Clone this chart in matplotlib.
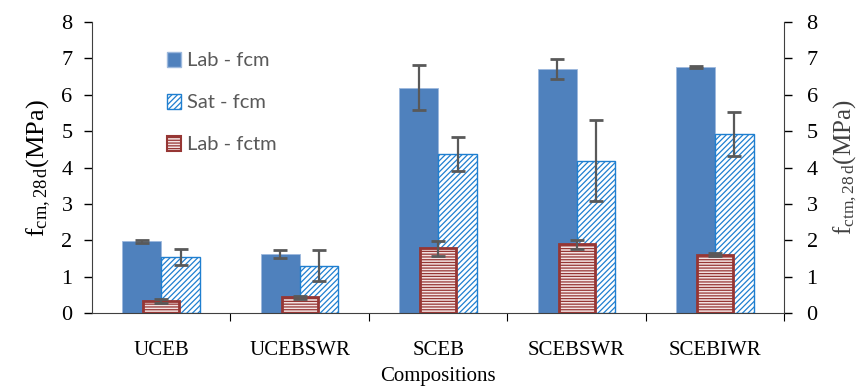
import matplotlib.pyplot as plt
from matplotlib.patches import Patch
import numpy as np

plt.rcParams["font.family"] = ["Liberation Serif", "DejaVu Serif"]
plt.rcParams["mathtext.fontset"] = "custom"
plt.rcParams["mathtext.rm"] = "Liberation Serif"
plt.rcParams["mathtext.it"] = "Liberation Serif"
plt.rcParams["hatch.linewidth"] = 0.9

compositions = ["UCEB", "UCEBSWR", "SCEB", "SCEBSWR", "SCEBIWR"]
lab_fcm = [1.97, 1.62, 6.20, 6.71, 6.77]
lab_fcm_err = [0.05, 0.11, 0.61, 0.27, 0.02]
sat_fcm = [1.55, 1.30, 4.37, 4.19, 4.93]
sat_fcm_err = [0.22, 0.43, 0.46, 1.12, 0.60]
lab_fctm = [0.33, 0.43, 1.78, 1.89, 1.61]
lab_fctm_err = [0.05, 0.05, 0.20, 0.12, 0.04]

x = np.arange(len(compositions))
w = 0.28
err_kw = dict(ecolor="#595959", elinewidth=1.6, capsize=5, capthick=2)

fig = plt.figure(figsize=(8.6, 3.87), dpi=100)
ax = fig.add_axes([0.107, 0.191, 0.805, 0.752])

b1 = ax.bar(x - w / 2, lab_fcm, w, color="#4F81BD", edgecolor="#9DB9DD",
            linewidth=0.6, yerr=lab_fcm_err, error_kw=err_kw, label="Lab - fcm")
b2 = ax.bar(x + w / 2, sat_fcm, w, facecolor="white", edgecolor="#1F7FD0",
            hatch="//////", linewidth=1.0, yerr=sat_fcm_err, error_kw=err_kw,
            label="Sat - fcm")

ax2 = ax.twinx()
b3 = ax2.bar(x, lab_fctm, 0.26, facecolor="#F4E4E4", edgecolor="#963634",
             hatch="------", linewidth=2.0, yerr=lab_fctm_err, error_kw=err_kw,
             label="Lab - fctm")

for a in (ax, ax2):
    a.set_ylim(0, 8)
    a.set_xlim(-0.5, 4.5)
    a.set_yticks(range(0, 9))
    a.spines["top"].set_visible(False)
    a.tick_params(axis="y", labelsize=16, direction="out", length=6, width=1)

ax.tick_params(axis="y", pad=8)
ax2.tick_params(axis="y", pad=10)
ax.spines["right"].set_visible(False)
ax2.spines["left"].set_visible(False)
ax2.spines["bottom"].set_visible(False)
ax2.spines["right"].set_color("#404040")
ax.spines["left"].set_color("#404040")
ax.spines["bottom"].set_color("#404040")

ax.set_xticks(np.arange(0.5, 4.6, 1.0))
ax.set_xticklabels([])
ax.set_xticks(x, minor=True)
ax.set_xticklabels(compositions, minor=True, fontsize=15)
ax.tick_params(axis="x", which="major", direction="out", length=6)
ax.tick_params(axis="x", which="minor", length=0, pad=20)

ax.set_xlabel("Compositions", fontsize=15, labelpad=5)
ax.set_ylabel(r"f$_{\mathrm{cm,28\,d}}$(MPa)", fontsize=19, labelpad=6)
ax2.set_ylabel(r"f$_{\mathrm{ctm,28\,d}}$(MPa)", fontsize=18, color="#404040",
               labelpad=10)

handles = [
    Patch(facecolor="#4F81BD", edgecolor="#9DB9DD"),
    Patch(facecolor="white", edgecolor="#1F7FD0", hatch="//////"),
    Patch(facecolor="#F4E4E4", edgecolor="#963634", hatch="------", linewidth=1.5),
]
leg = ax2.legend(handles, ["Lab - fcm", "Sat - fcm", "Lab - fctm"],
                 loc="upper left", bbox_to_anchor=(0.173, 0.913),
                 bbox_transform=fig.transFigure, frameon=False,
                 handlelength=0.7, handleheight=0.8, handletextpad=0.3,
                 labelspacing=1.2, prop={"family": "Lato", "size": 14.5})
for t in leg.get_texts():
    t.set_color("#595959")

fig.savefig("out.png", dpi=100)
